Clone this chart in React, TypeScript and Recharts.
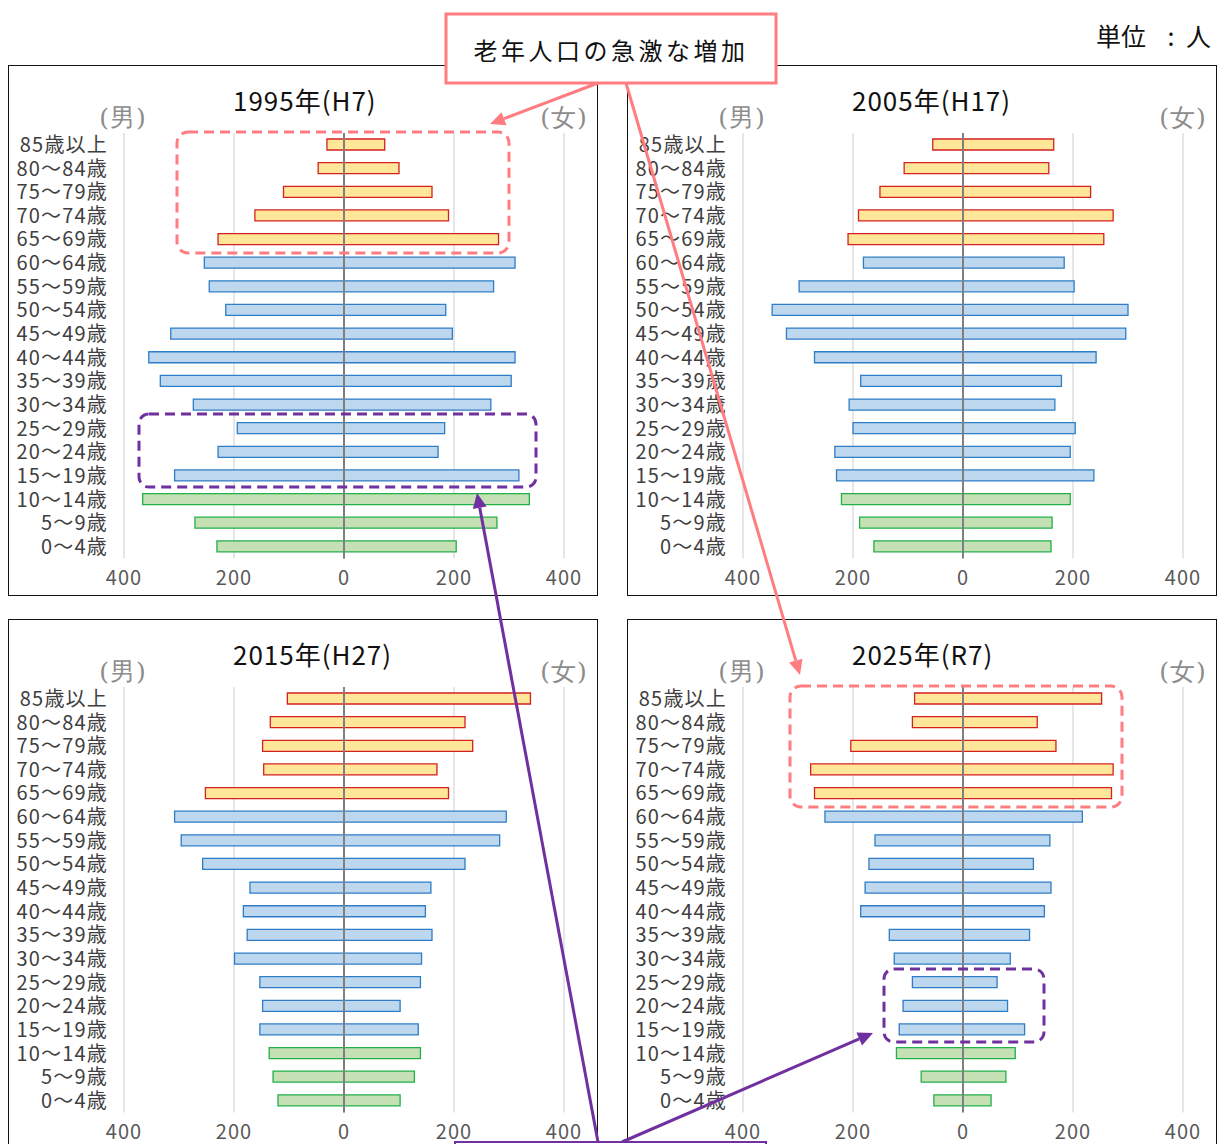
import React from 'react';
import { BarChart, Bar, XAxis, YAxis, CartesianGrid, ReferenceLine, Cell } from 'recharts';

// ---- data ----
const AGES = ['85歳以上', '80～84歳', '75～79歳', '70～74歳', '65～69歳', '60～64歳', '55～59歳', '50～54歳', '45～49歳', '40～44歳', '35～39歳', '30～34歳', '25～29歳', '20～24歳', '15～19歳', '10～14歳', '5～9歳', '0～4歳'];
const X_TICKS = [-400, -200, 0, 200, 400];

const MALE_1995 = [31, 47, 110, 162, 229, 254, 245, 215, 315, 355, 334, 274, 194, 229, 308, 366, 271, 231];
const FEMALE_1995 = [74, 100, 160, 190, 281, 311, 272, 185, 197, 311, 304, 267, 183, 171, 318, 337, 278, 204];
const MALE_2005 = [55, 107, 151, 190, 209, 181, 298, 347, 321, 270, 186, 207, 200, 233, 230, 221, 188, 162];
const FEMALE_2005 = [165, 156, 232, 273, 256, 184, 202, 300, 296, 242, 179, 167, 204, 195, 238, 195, 162, 160];
const MALE_2015 = [103, 134, 148, 146, 252, 308, 296, 257, 171, 183, 176, 199, 153, 148, 153, 136, 129, 120];
const FEMALE_2015 = [339, 220, 234, 169, 190, 295, 283, 220, 158, 148, 160, 141, 139, 102, 135, 139, 128, 102];
const MALE_2025 = [88, 92, 204, 277, 270, 251, 160, 171, 178, 186, 134, 125, 92, 109, 116, 121, 76, 53];
const FEMALE_2025 = [252, 135, 169, 273, 270, 217, 158, 128, 160, 148, 121, 86, 62, 81, 112, 95, 78, 51];

const TITLES = ['1995年(H7)', '2005年(H17)', '2015年(H27)', '2025年(R7)'];

// ---- styles ----
const FONT = "'Noto Sans CJK JP', 'Noto Sans', sans-serif";
const PINK = '#FF7C80';
const PURPLE = '#7030A0';
const GROUP_STYLE = {
  elder: { fill: '#FFE699', stroke: '#D42020' },
  work: { fill: '#BDD7EE', stroke: '#2E7DC6' },
  child: { fill: '#C5E0B4', stroke: '#22B04A' },
};
const groupOf = (i: number) => (i <= 4 ? 'elder' : i <= 14 ? 'work' : 'child');

const PANEL_W = 590;
const PANEL_H = 531;
const PANELS = [
  { title: TITLES[0], male: MALE_1995, female: FEMALE_1995, left: 8, top: 65 },
  { title: TITLES[1], male: MALE_2005, female: FEMALE_2005, left: 627, top: 65 },
  { title: TITLES[2], male: MALE_2015, female: FEMALE_2015, left: 8, top: 619 },
  { title: TITLES[3], male: MALE_2025, female: FEMALE_2025, left: 627, top: 619 },
];

function Pyramid({ male, female }: { male: number[]; female: number[] }) {
  const data = AGES.map((age, i) => ({ age, m: male[i], f: female[i], range: [-male[i], female[i]] }));
  return (
    <BarChart
      width={PANEL_W}
      height={PANEL_H}
      data={data}
      layout="vertical"
      margin={{ top: 68, right: 34, bottom: 0, left: 0 }}
      barCategoryGap={0}
    >
      <CartesianGrid horizontal={false} stroke="#D9D9D9" strokeWidth={1.3} />
      <XAxis
        type="number"
        domain={[-400, 400]}
        ticks={X_TICKS}
        tickFormatter={(v: number) => String(Math.abs(v))}
        axisLine={false}
        tickLine={false}
        height={37.5}
        tickMargin={6}
        tick={{ fill: '#595959', fontSize: 20, letterSpacing: 1 }}
        allowDataOverflow
      />
      <YAxis
        type="category"
        dataKey="age"
        width={116}
        axisLine={false}
        tickLine={false}
        tickMargin={10}
        interval={0}
        tick={{ fill: '#404040', fontSize: 20, letterSpacing: 1.2 }}
      />
      <Bar dataKey="range" barSize={11} isAnimationActive={false}>
        {data.map((d, i) => {
          const s = GROUP_STYLE[groupOf(i)];
          return <Cell key={d.age} fill={s.fill} stroke={s.stroke} strokeWidth={1.3} />;
        })}
      </Bar>
      <ReferenceLine x={0} stroke="#7F7F7F" strokeWidth={2} />
    </BarChart>
  );
}

function arrow(x1: number, y1: number, x2: number, y2: number, color: string, w: number, key: string) {
  const L = 15;
  const H = 7;
  const dx = x2 - x1;
  const dy = y2 - y1;
  const len = Math.sqrt(dx * dx + dy * dy);
  const ux = dx / len;
  const uy = dy / len;
  const bx = x2 - ux * L;
  const by = y2 - uy * L;
  const px = -uy;
  const py = ux;
  return (
    <g key={key}>
      <line x1={x1} y1={y1} x2={bx} y2={by} stroke={color} strokeWidth={w} />
      <polygon points={`${x2},${y2} ${bx + px * H},${by + py * H} ${bx - px * H},${by - py * H}`} fill={color} />
    </g>
  );
}

export default function App() {
  return (
    <div style={{ position: 'absolute', left: 0, top: 0, width: 1218, height: 1144, overflow: 'hidden', background: '#fff', fontFamily: FONT }}>
      {PANELS.map((p) => (
        <div
          key={p.title}
          style={{ position: 'absolute', left: p.left, top: p.top, width: PANEL_W, height: PANEL_H, boxSizing: 'border-box', border: '1px solid #111' }}
        >
          <div style={{ position: 'absolute', left: -1, top: -1 }}>
            <Pyramid male={p.male} female={p.female} />
          </div>
        </div>
      ))}
      <svg width={1218} height={1144} style={{ position: 'absolute', left: 0, top: 0, pointerEvents: 'none' }}>
        {PANELS.map((p) => (
          <g key={p.title + 't'}>
            <text x={p.left + 225} y={p.top + 34} dominantBaseline="central" fontSize={26} fill="#111" letterSpacing={1} fontFamily={FONT}>
              {p.title}
            </text>
            <text x={p.left + 115} y={p.top + 52} dominantBaseline="central" textAnchor="middle" fontSize={25} fill="#8C8C8C" letterSpacing={1} fontFamily="'DejaVu Serif', serif">
              (男)
            </text>
            <text x={p.left + 556} y={p.top + 52} dominantBaseline="central" textAnchor="middle" fontSize={25} fill="#8C8C8C" letterSpacing={1} fontFamily="'DejaVu Serif', serif">
              (女)
            </text>
          </g>
        ))}
        {/* unit */}
        <text x={1096} y={35} dominantBaseline="central" fontSize={25} fill="#111" fontFamily={FONT}>単位</text>
        <text x={1171} y={35} dominantBaseline="central" textAnchor="middle" fontSize={25} fill="#111" fontFamily={FONT}>:</text>
        <text x={1186} y={35} dominantBaseline="central" fontSize={25} fill="#111" fontFamily={FONT}>人</text>

        {/* pink annotations */}
        <rect x={177} y={132} width={332} height={121} rx={11} fill="none" stroke={PINK} strokeWidth={3} strokeDasharray="10 6" />
        <rect x={790} y={686} width={332} height={121} rx={11} fill="none" stroke={PINK} strokeWidth={3} strokeDasharray="10 6" />
        {arrow(598, 83, 490, 124, PINK, 3, 'pa1')}
        {arrow(626, 83, 800, 675, PINK, 3, 'pa2')}
        <rect x={446} y={14} width={330} height={69} fill="#fff" stroke={PINK} strokeWidth={3} />
        <text x={611} y={49} dominantBaseline="central" textAnchor="middle" fontSize={24} letterSpacing={3.5} fill="#111" fontFamily={FONT}>
          老年人口の急激な増加
        </text>

        {/* purple annotations */}
        <rect x={139} y={414} width={397} height={73} rx={10} fill="none" stroke={PURPLE} strokeWidth={3} strokeDasharray="10 6" />
        <rect x={884} y={969} width={160} height={73} rx={10} fill="none" stroke={PURPLE} strokeWidth={3} strokeDasharray="10 6" />
        {arrow(598, 1142, 477, 493, PURPLE, 3, 'pu1')}
        {arrow(622, 1142, 873, 1033, PURPLE, 3, 'pu2')}
        <rect x={455} y={1142} width={311} height={40} fill="#fff" stroke={PURPLE} strokeWidth={2} />
      </svg>
    </div>
  );
}
